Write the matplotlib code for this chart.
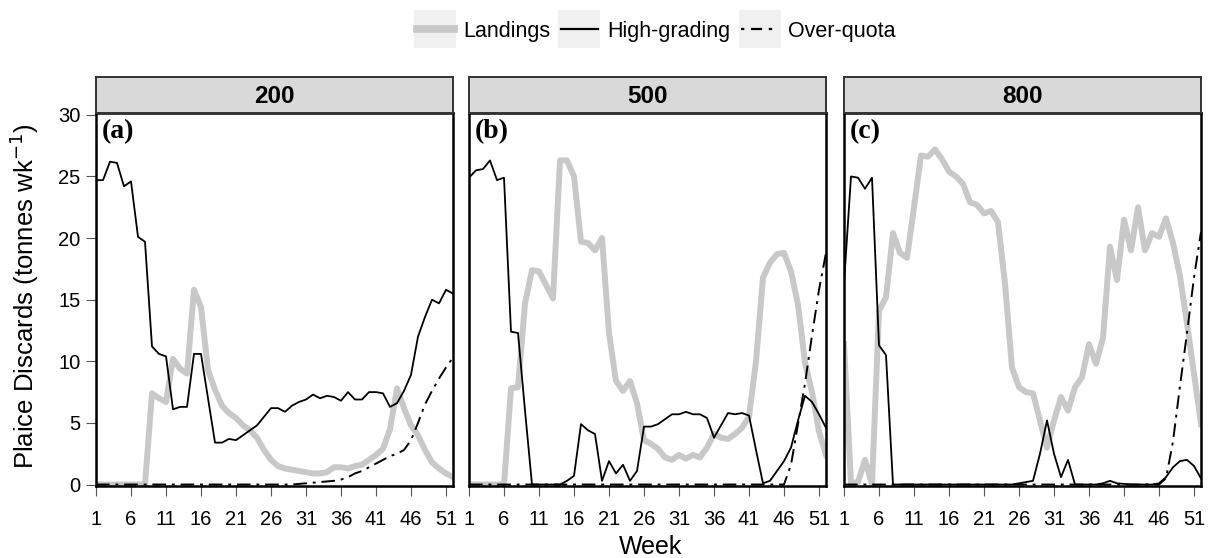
import matplotlib
matplotlib.use("Agg")
import matplotlib.pyplot as plt
from matplotlib.lines import Line2D
from matplotlib.patches import Rectangle
from matplotlib.legend_handler import HandlerLine2D

plt.rcParams['font.family'] = ['Liberation Sans', 'DejaVu Sans']

weeks = list(range(1, 53))
panel_titles = ["200", "500", "800"]
panel_tags = ["(a)", "(b)", "(c)"]
x_ticks = [1, 6, 11, 16, 21, 26, 31, 36, 41, 46, 51]
y_ticks = [0, 5, 10, 15, 20, 25, 30]

landings_200 = [0, 0, 0, 0, 0, 0, 0, 0, 7.4, 7.0, 6.7, 10.2, 9.4, 9.0, 15.8, 14.4,
                9.3, 7.7, 6.4, 5.8, 5.4, 4.8, 4.4, 3.8, 2.8, 2.0, 1.5, 1.3, 1.2, 1.1,
                1.0, 0.9, 0.9, 1.0, 1.4, 1.4, 1.3, 1.5, 1.6, 2.0, 2.4, 2.9, 4.5, 7.8,
                6.2, 4.8, 4.0, 2.8, 1.8, 1.3, 0.9, 0.6]
highgrading_200 = [24.7, 24.7, 26.2, 26.1, 24.2, 24.6, 20.1, 19.7, 11.2, 10.6, 10.4, 6.1,
                   6.3, 6.3, 10.6, 10.6, 7.0, 3.4, 3.4, 3.7, 3.6, 4.0, 4.4, 4.8, 5.5, 6.2,
                   6.2, 5.9, 6.4, 6.7, 6.9, 7.3, 7.0, 7.2, 7.1, 6.8, 7.5, 6.9, 6.9, 7.5,
                   7.5, 7.4, 6.3, 6.6, 7.6, 8.9, 12.0, 13.6, 15.0, 14.7, 15.8, 15.5]
overquota_200 = [0] * 29 + [0.05, 0.1, 0.15, 0.2, 0.25, 0.3, 0.4, 0.6, 0.9, 1.1, 1.4,
                            1.7, 2.0, 2.3, 2.5, 2.8, 3.6, 5.0, 6.5, 7.6, 8.6, 9.5, 10.3]

landings_500 = [0, 0, 0, 0, 0, 0, 7.8, 7.9, 14.7, 17.4, 17.3, 16.2, 15.1, 26.3, 26.3,
                25.0, 19.7, 19.6, 19.0, 20.0, 12.3, 8.4, 7.6, 8.4, 6.6, 3.6, 3.3, 2.9,
                2.2, 2.0, 2.4, 2.1, 2.4, 2.2, 3.0, 4.1, 3.8, 3.7, 4.1, 4.6, 5.5, 10.0,
                16.8, 18.0, 18.7, 18.8, 17.3, 14.6, 9.9, 7.5, 4.3, 2.4]
highgrading_500 = [24.9, 25.5, 25.6, 26.3, 24.7, 24.9, 12.4, 12.3, 6.0, 0, 0, 0, 0, 0,
                   0.3, 0.7, 4.9, 4.4, 4.1, 0.3, 1.9, 0.9, 1.6, 0.3, 1.1, 4.7, 4.7, 4.9,
                   5.3, 5.7, 5.7, 5.9, 5.7, 5.7, 5.4, 3.8, 4.8, 5.8, 5.7, 5.8, 5.6, 2.8,
                   0.1, 0.3, 1.1, 1.9, 3.0, 5.2, 7.2, 6.7, 5.7, 4.6]
overquota_500 = [0] * 46 + [1.6, 4.9, 8.2, 12.1, 15.8, 18.8]

landings_800 = [11.4, 0.1, 0.2, 2.0, 0, 14.1, 15.2, 20.4, 18.8, 18.4, 22.5, 26.7, 26.6,
                27.2, 26.4, 25.4, 25.0, 24.4, 22.9, 22.7, 22.0, 22.2, 21.3, 16.3, 9.5,
                7.9, 7.5, 7.4, 5.2, 3.0, 5.2, 7.1, 6.0, 7.9, 8.7, 11.4, 9.8, 11.9, 19.3,
                16.6, 21.5, 19.0, 22.5, 19.0, 20.4, 20.1, 21.6, 19.6, 16.9, 13.1, 9.0, 4.9]
highgrading_800 = [16.3, 25.0, 24.9, 24.0, 24.9, 11.3, 10.5, 0, 0, 0, 0, 0, 0, 0, 0, 0,
                   0, 0, 0, 0, 0, 0, 0, 0, 0, 0.1, 0.2, 0.3, 2.5, 5.2, 2.5, 0.6, 2.0, 0,
                   0, 0, 0, 0.1, 0.3, 0.1, 0.05, 0, 0, 0, 0, 0.1, 0.6, 1.4, 1.9, 2.0, 1.5,
                   0.5]
overquota_800 = [0] * 46 + [0.5, 3.5, 8.0, 12.3, 16.8, 20.5]

landings = [landings_200, landings_500, landings_800]
highgrading = [highgrading_200, highgrading_500, highgrading_800]
overquota = [overquota_200, overquota_500, overquota_800]

W, H = 1215, 558
fig = plt.figure(figsize=(W / 100, H / 100), dpi=100)

lefts = [96, 469, 844]
pw = 357
top_px, bot_px = 113, 486
strip_top = 77
grey = '#c8c8c8'
dashdot = (0, (7, 3, 1.5, 3))

for i in range(3):
    ax = fig.add_axes([lefts[i] / W, 1 - bot_px / H, pw / W, (bot_px - top_px) / H])
    ax.plot(weeks, landings[i], color=grey, lw=4.3, zorder=1.5)
    ax.plot(weeks, highgrading[i], color='black', lw=1.3, zorder=2.2)
    ax.plot(weeks, overquota[i], color='black', lw=1.4, linestyle=dashdot, zorder=2.3)
    ax.set_xlim(1, 52)
    ax.set_ylim(-0.12, 30.15)
    ax.set_xticks(x_ticks)
    ax.set_xticklabels([str(t) for t in x_ticks], fontsize=14.5)
    ax.set_yticks(y_ticks)
    if i == 0:
        ax.set_yticklabels([str(t) for t in y_ticks], fontsize=14.5)
    else:
        ax.tick_params(axis='y', left=False, labelleft=False)
    ax.tick_params(axis='both', direction='out', length=7, width=0.8,
                   color='#555555', pad=4)
    ax.tick_params(axis='x', pad=10)
    for sp in ax.spines.values():
        sp.set_linewidth(1.8)
        sp.set_color('black')
        sp.set_zorder(3)
    ax.text(0.015, 0.985, panel_tags[i], transform=ax.transAxes, ha='left', va='top',
            fontsize=20, fontweight='bold', family='Liberation Serif')
    # strip
    sax = fig.add_axes([lefts[i] / W, 1 - top_px / H, pw / W, (top_px - strip_top) / H])
    sax.set_xticks([])
    sax.set_yticks([])
    sax.set_facecolor('#d9d9d9')
    for sp in sax.spines.values():
        sp.set_linewidth(1.4)
        sp.set_color('#333333')
    sax.text(0.5, 0.45, panel_titles[i], ha='center', va='center', fontsize=17.5,
             fontweight='bold', transform=sax.transAxes)

fig.text(24 / W, 1 - 296 / H, 'Plaice Discards (tonnes wk$^{-1}$)', rotation=90,
         ha='center', va='center', fontsize=18.5)
fig.text(651 / W, 1 - 547 / H, 'Week', ha='center', va='center', fontsize=18)


class BoxedHandler(HandlerLine2D):
    def create_artists(self, legend, orig_handle, xdescent, ydescent, width, height,
                       fontsize, trans):
        artists = super().create_artists(legend, orig_handle, xdescent, ydescent,
                                         width, height, fontsize, trans)
        rect = Rectangle((-xdescent - 2, -ydescent - height * 0.75), width + 4,
                         height * 2.5, facecolor='#f0f0f0', edgecolor='none',
                         transform=trans)
        return [rect] + list(artists)


handles = [Line2D([], [], color=grey, lw=5.5),
           Line2D([], [], color='black', lw=1.6),
           Line2D([], [], color='black', lw=1.6, linestyle=(0, (1.5, 3, 5, 3, 1.5, 3)))]
handler = BoxedHandler()
fig.legend(handles, ['Landings', 'High-grading', 'Over-quota'], loc='center',
           bbox_to_anchor=(656 / W, 1 - 31 / H), ncol=3, frameon=False, fontsize=15.5,
           handlelength=1.7, handletextpad=0.45, columnspacing=0.5,
           handler_map={h: handler for h in handles})

fig.savefig('out.png', dpi=100)
